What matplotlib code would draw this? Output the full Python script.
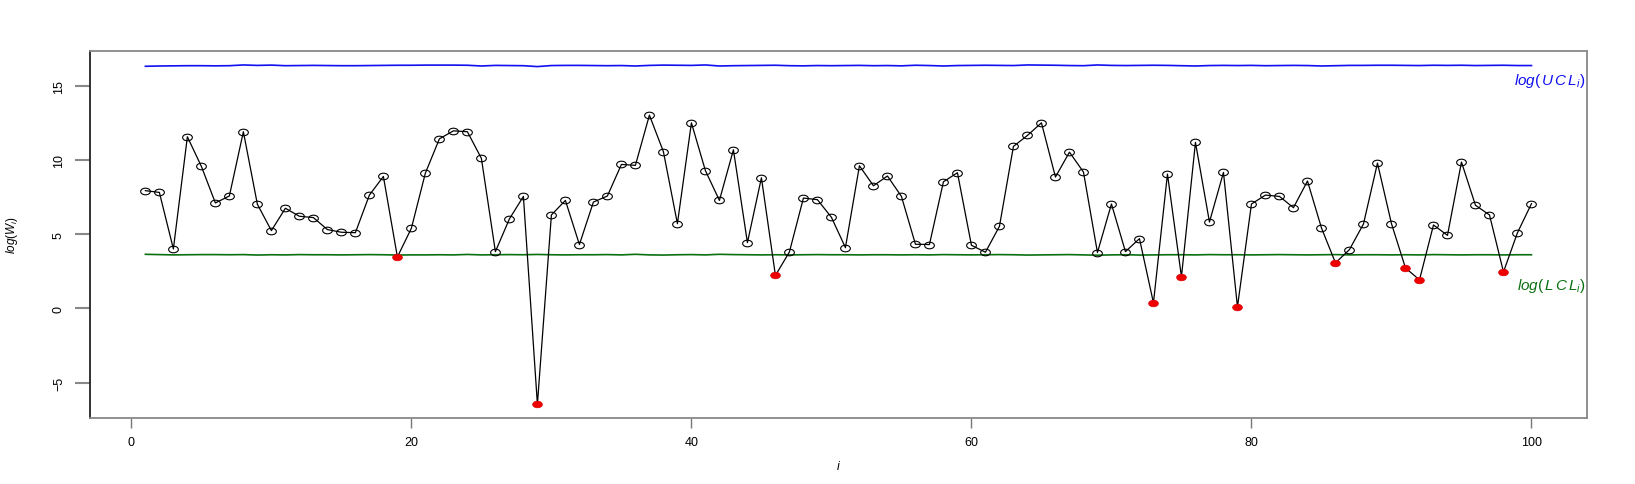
import matplotlib
matplotlib.use("Agg")
import matplotlib.pyplot as plt
import numpy as np
from matplotlib.path import Path

plt.rcParams["font.family"] = ["Liberation Sans", "DejaVu Sans"]
plt.rcParams["mathtext.fontset"] = "custom"
plt.rcParams["mathtext.rm"] = "Liberation Sans"
plt.rcParams["mathtext.it"] = "Liberation Sans:italic"

# ── data ──────────────────────────────────────────────────────────────────
idx = list(range(1, 101))

log_w = [
    7.96, 7.84, 4.02, 11.60, 9.60, 7.13, 7.60, 11.94, 7.04, 5.26,
    6.77, 6.23, 6.14, 5.33, 5.15, 5.12, 7.66, 8.92, 3.48, 5.42,
    9.15, 11.46, 12.00, 11.94, 10.14, 3.84, 6.05, 7.57, -6.47, 6.32,
    7.30, 4.32, 7.19, 7.60, 9.73, 9.67, 13.06, 10.59, 5.73, 12.54,
    9.31, 7.30, 10.72, 4.45, 8.83, 2.23, 3.82, 7.46, 7.35, 6.16,
    4.11, 9.64, 8.29, 8.95, 7.57, 4.34, 4.32, 8.56, 9.17, 4.27,
    3.80, 5.55, 10.95, 11.69, 12.54, 8.88, 10.56, 9.22, 3.78, 7.06,
    3.84, 4.72, 0.38, 9.08, 2.14, 11.22, 5.84, 9.19, 0.11, 7.06,
    7.66, 7.57, 6.81, 8.61, 5.44, 3.08, 3.98, 5.71, 9.82, 5.73,
    2.74, 1.93, 5.64, 4.94, 9.89, 6.97, 6.32, 2.47, 5.12, 7.08,
]

log_ucl = [
    16.36, 16.38, 16.39, 16.40, 16.40, 16.39, 16.40, 16.45, 16.42, 16.44,
    16.40, 16.41, 16.42, 16.41, 16.40, 16.40, 16.41, 16.42, 16.43, 16.43,
    16.44, 16.44, 16.44, 16.43, 16.38, 16.42, 16.41, 16.40, 16.34, 16.41,
    16.42, 16.42, 16.41, 16.40, 16.41, 16.38, 16.42, 16.44, 16.43, 16.42,
    16.45, 16.38, 16.40, 16.41, 16.42, 16.43, 16.40, 16.39, 16.41, 16.40,
    16.41, 16.42, 16.40, 16.41, 16.39, 16.43, 16.41, 16.38, 16.41, 16.42,
    16.43, 16.42, 16.41, 16.45, 16.44, 16.43, 16.41, 16.40, 16.45, 16.42,
    16.41, 16.42, 16.43, 16.42, 16.40, 16.38, 16.41, 16.42, 16.41, 16.42,
    16.40, 16.41, 16.42, 16.41, 16.38, 16.40, 16.42, 16.42, 16.43, 16.43,
    16.42, 16.41, 16.43, 16.42, 16.43, 16.41, 16.42, 16.43, 16.41, 16.41,
]

log_lcl = [
    3.66, 3.64, 3.62, 3.63, 3.64, 3.64, 3.63, 3.64, 3.61, 3.63,
    3.62, 3.64, 3.63, 3.63, 3.62, 3.63, 3.64, 3.63, 3.61, 3.62,
    3.62, 3.63, 3.62, 3.65, 3.62, 3.63, 3.64, 3.63, 3.65, 3.63,
    3.62, 3.63, 3.63, 3.64, 3.62, 3.66, 3.62, 3.61, 3.63, 3.64,
    3.62, 3.66, 3.64, 3.63, 3.62, 3.63, 3.62, 3.63, 3.64, 3.63,
    3.63, 3.62, 3.63, 3.63, 3.62, 3.63, 3.62, 3.64, 3.63, 3.62,
    3.63, 3.64, 3.63, 3.61, 3.62, 3.63, 3.64, 3.62, 3.60, 3.62,
    3.63, 3.61, 3.62, 3.63, 3.63, 3.62, 3.64, 3.63, 3.63, 3.62,
    3.63, 3.64, 3.63, 3.62, 3.63, 3.64, 3.62, 3.63, 3.63, 3.62,
    3.63, 3.62, 3.64, 3.63, 3.62, 3.63, 3.63, 3.62, 3.63, 3.63,
]

x = np.array(idx)
w = np.array(log_w)
lcl = np.array(log_lcl)
below = w < lcl

# slightly squashed circle, the reference is stretched horizontally
circ = Path.unit_circle()
oval = Path(circ.vertices * np.array([1.0, 0.68]), circ.codes)

fig = plt.figure(figsize=(16.35, 4.85), dpi=100)
ax = fig.add_axes([0.055, 0.136, 0.9156, 0.757])

ax.plot(x, log_ucl, color="#1010f0", lw=1.2, zorder=2)
ax.plot(x, log_lcl, color="#0a7010", lw=1.2, zorder=2)
ax.plot(x, w, color="black", lw=0.9, zorder=3)
ax.plot(x[~below], w[~below], ls="none", marker=oval, ms=7,
        mfc="none", mec="black", mew=0.8, zorder=4)
ax.plot(x[below], w[below], ls="none", marker=oval, ms=7,
        mfc="#ee0000", mec="#dd0000", mew=0.5, zorder=5)

ax.text(103.85, 15.45, r"$log(\,U\,C\,L_i)$", color="#1010f0", fontsize=11,
        ha="right", va="center")
ax.text(103.85, 1.6, r"$log(\,L\,C\,L_i)$", color="#0a7010", fontsize=11,
        ha="right", va="center")

ax.set_xlim(-2.96, 103.96)
ax.set_ylim(-7.4, 17.4)
ax.set_xticks([0, 20, 40, 60, 80, 100])
ax.set_yticks([-5, 0, 5, 10, 15])
ax.tick_params(axis="x", length=7, width=1, color="#777777", labelsize=9, pad=6)
ax.tick_params(axis="y", length=11, width=1.5, color="#888888", labelsize=9,
               pad=7, labelrotation=90)
for lab in ax.get_yticklabels():
    lab.set_va("center")

for side in ("top", "right", "bottom"):
    ax.spines[side].set_color("#888888")
    ax.spines[side].set_linewidth(1.3)
ax.spines["left"].set_color("#222222")
ax.spines["left"].set_linewidth(1.3)

ax.set_xlabel(r"$i$", fontsize=9, labelpad=8)
ax.set_ylabel(r"$log(W_i)$", fontsize=8.5, labelpad=24)

fig.savefig("out.png", dpi=100)
